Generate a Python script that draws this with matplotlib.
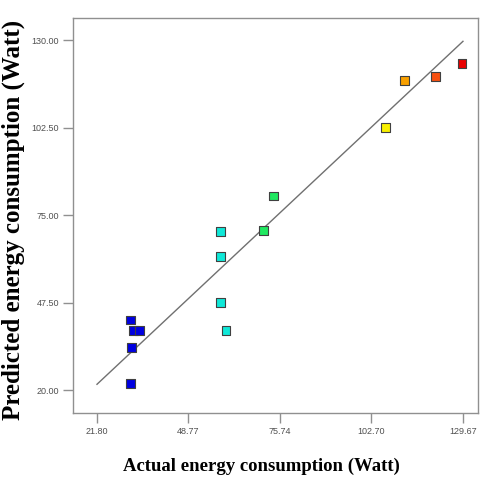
import matplotlib
matplotlib.use("Agg")
import matplotlib.pyplot as plt

actual = [31.7, 32.6, 34.4, 32.0, 31.7, 58.3, 58.3, 58.3, 59.8, 73.8, 70.9, 106.8, 112.4, 121.6, 129.4]
predicted = [42.0, 38.6, 38.6, 33.4, 22.1, 69.8, 61.9, 47.5, 38.6, 81.0, 70.1, 102.6, 117.3, 118.7, 122.8]
colors = ["#0000e0", "#0000e0", "#0000e0", "#0000e0", "#0000e0",
          "#10e8d8", "#10e8d8", "#10e8d8", "#10e8d8",
          "#20e860", "#20e860",
          "#f8f000", "#f8a000", "#f85010", "#e80000"]
xticks = [21.80, 48.77, 75.74, 102.70, 129.67]
yticks = [20.00, 47.50, 75.00, 102.50, 130.00]
xtick_labels = ["21.80", "48.77", "75.74", "102.70", "129.67"]
ytick_labels = ["20.00", "47.50", "75.00", "102.50", "130.00"]
line_ends = [21.80, 129.67]

fig = plt.figure(figsize=(4.84, 4.84), dpi=100)
ax = fig.add_axes([73/484, 1-413/484, (478-73)/484, (413-18)/484])
ax.plot(line_ends, line_ends, color="#707070", lw=1.0, zorder=1)
ax.scatter(actual, predicted, marker="s", s=40, c=colors, edgecolors="#404040", linewidths=0.8, zorder=3)
ax.set_xlim(14.73, 134.1)
ax.set_ylim(12.77, 137.0)
ax.set_xticks(xticks)
ax.set_xticklabels(xtick_labels)
ax.set_yticks(yticks)
ax.set_yticklabels(ytick_labels)
for s in ax.spines.values():
    s.set_color("#909090")
    s.set_linewidth(1.0)
ax.tick_params(axis="both", colors="#909090", labelcolor="#505050", labelsize=6.5, length=7, width=1.0, pad=3)
for lab in ax.get_xticklabels() + ax.get_yticklabels():
    lab.set_family("Liberation Sans")
fig.text(261/484, 1-466/484, "Actual energy consumption (Watt)", family="Liberation Serif",
         fontweight="bold", fontsize=13.5, ha="center", va="center")
fig.text(13/484, 1-220/484, "Predicted energy consumption (Watt)", family="Liberation Serif",
         fontweight="bold", fontsize=18, ha="center", va="center", rotation=90)
fig.savefig("out.png", dpi=100)
